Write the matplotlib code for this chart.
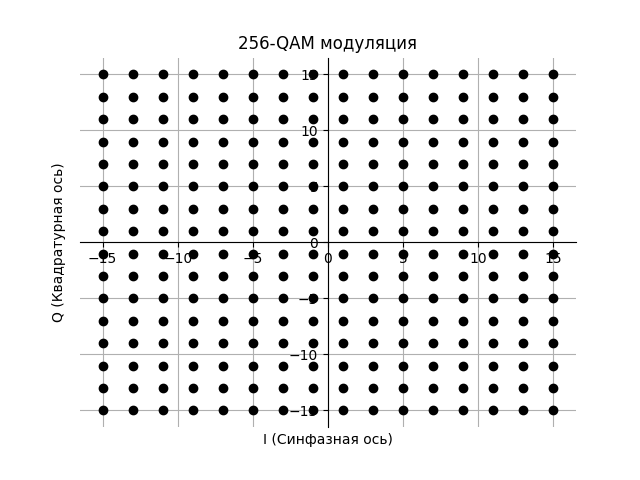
import matplotlib
matplotlib.use('Agg')
import matplotlib.pyplot as plt
import numpy as np

LEVELS = [-15, -13, -11, -9, -7, -5, -3, -1, 1, 3, 5, 7, 9, 11, 13, 15]
I_VALS, Q_VALS = np.meshgrid(LEVELS, LEVELS)

plt.figure(figsize=(6.4, 4.8), dpi=100)
plt.scatter(I_VALS.ravel(), Q_VALS.ravel(), color='black', zorder=3)

ax = plt.gca()
ax.spines['right'].set_color('none')
ax.spines['top'].set_color('none')
ax.spines['bottom'].set_position(('data', 0))
ax.spines['left'].set_position(('data', 0))
ax.set_xlim(-16.5, 16.5)
ax.set_ylim(-16.5, 16.5)

plt.grid(True)
plt.title('256-QAM модуляция')
plt.xlabel('I (Синфазная ось)')
plt.ylabel('Q (Квадратурная ось)')
ax.xaxis.set_label_coords(0.5, -0.016)
ax.yaxis.set_label_coords(-0.028, 0.5)
plt.savefig('out.png')
